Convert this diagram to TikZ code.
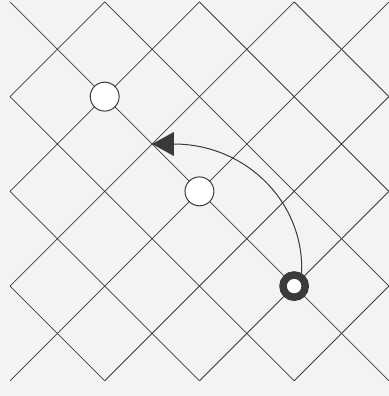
\documentclass[tikz,border=0pt]{standalone}
\usepackage{tikz}
\usetikzlibrary{arrows.meta}
\definecolor{paper}{HTML}{F3F3F3}
\definecolor{ink}{HTML}{3A3A3A}
\tikzset{
  gridln/.style={draw=ink, line width=0.45pt},
  spot/.style={circle, draw=ink, fill=white, line width=0.6pt, minimum size=6.1mm, inner sep=0pt},
  stone/.style={circle, draw=ink, fill=white, line width=4.5pt, minimum size=4.7mm, inner sep=0pt},
  arr/.style={-{Triangle[length=4.6mm, width=5mm]}, draw=ink, line width=0.6pt}
}
\begin{document}
\begin{tikzpicture}
\fill[paper] (-0.21,-0.32) rectangle (8.0,8.04);
\useasboundingbox (-0.21,-0.32) rectangle (8.0,8.04);
% diagonal lattice
\begin{scope}
\clip (0,0) rectangle (8,8);
\foreach \k in {-6,-4,...,6} {
  \draw[gridln] (\k,0) -- ++(8,8);
  \draw[gridln] (\k,8) -- ++(8,-8);
}
\end{scope}
\node[spot] (p1) at (2,6) {};
\node[spot] (p2) at (4,4) {};
\node[stone] (st) at (6,2) {};
\coordinate (tip) at (3,5);
\draw[arr] (st.60) .. controls (6.22,3.76) and (4.99,5) .. (tip);
\end{tikzpicture}
\end{document}
